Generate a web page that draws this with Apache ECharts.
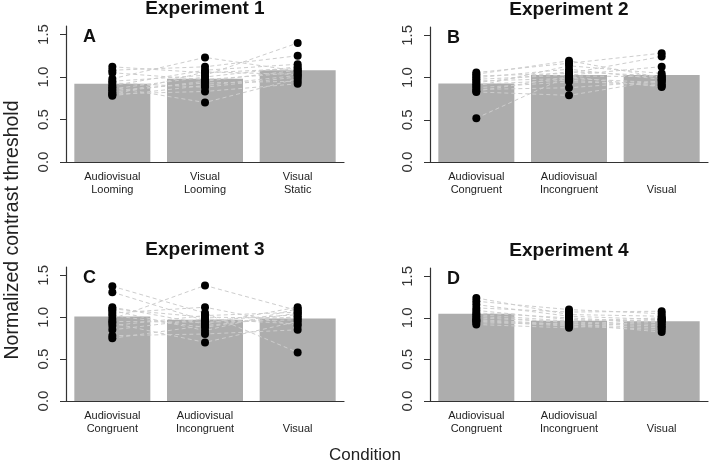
<!DOCTYPE html>
<html>
<head>
<meta charset="utf-8">
<script src="https://cdn.jsdelivr.net/npm/echarts@6/dist/echarts.min.js"></script>
<style>html,body{margin:0;padding:0;background:#fff}#c{width:711px;height:465px}</style>
</head>
<body>
<div id="c"></div>
<script>
// ---- Data ----
const categoriesExp1 = ['Audiovisual\nLooming', 'Visual\nLooming', 'Visual\nStatic'];
const categoriesExp2 = ['Audiovisual\nCongruent', 'Audiovisual\nIncongruent', '\nVisual'];
const categoriesExp3 = ['Audiovisual\nCongruent', 'Audiovisual\nIncongruent', '\nVisual'];
const categoriesExp4 = ['Audiovisual\nCongruent', 'Audiovisual\nIncongruent', '\nVisual'];

const yTicks = [0, 0.5, 1.0, 1.5];

const exp1Means = [0.92, 0.98, 1.08];
const exp1Cond1 = [1.12, 1.08, 1.05, 0.98, 0.95, 0.93, 0.90, 0.88, 0.86, 0.84, 0.82, 0.80, 0.78, 0.79];
const exp1Cond2 = [1.05, 1.12, 0.97, 1.23, 1.02, 0.88, 1.08, 0.70, 1.00, 0.93, 0.95, 0.83, 0.90, 1.06];
const exp1Cond3 = [1.10, 1.25, 1.05, 1.07, 1.40, 1.00, 1.15, 0.98, 1.12, 0.95, 1.08, 0.92, 1.02, 1.03];

const exp2Means = [0.93, 1.03, 1.03];
const exp2Cond1 = [1.06, 1.04, 1.02, 1.00, 0.98, 0.96, 0.94, 0.92, 0.90, 0.88, 0.86, 0.84, 0.83, 0.52];
const exp2Cond2 = [1.17, 1.20, 1.05, 1.10, 1.03, 0.99, 1.07, 0.97, 1.14, 0.95, 0.88, 1.01, 0.79, 1.02];
const exp2Cond3 = [1.29, 1.00, 1.25, 0.98, 1.13, 0.94, 1.02, 0.90, 1.05, 0.92, 0.96, 0.89, 0.97, 1.01];

const exp3Means = [1.01, 0.97, 0.985];
const exp3Cond1 = [1.37, 1.30, 1.12, 1.10, 1.08, 1.05, 1.02, 0.98, 0.95, 0.93, 0.85, 0.78, 0.75, 0.90];
const exp3Cond2 = [1.05, 0.96, 0.92, 1.00, 0.84, 1.12, 0.88, 1.38, 0.94, 0.70, 0.98, 0.80, 0.90, 1.02];
const exp3Cond3 = [0.58, 1.03, 1.12, 0.99, 1.10, 0.90, 1.05, 1.08, 0.97, 0.95, 0.92, 0.85, 1.01, 1.06];

const exp4Means = [1.05, 0.965, 0.96];
const exp4Cond1 = [1.24, 1.20, 1.16, 1.12, 1.09, 1.06, 1.04, 1.02, 1.00, 0.98, 0.96, 0.94, 0.92, 0.97];
const exp4Cond2 = [1.04, 1.10, 1.02, 1.07, 0.98, 1.00, 0.96, 0.94, 0.95, 0.92, 0.90, 0.93, 0.88, 0.91];
const exp4Cond3 = [1.02, 1.05, 0.98, 1.08, 0.96, 0.94, 1.00, 0.90, 0.92, 0.88, 0.86, 0.83, 0.97, 0.99];

const panelTitles = ['Experiment 1', 'Experiment 2', 'Experiment 3', 'Experiment 4'];
const panelLetters = ['A', 'B', 'C', 'D'];
const yAxisTitle = 'Normalized contrast threshold';
const xAxisTitle = 'Condition';

// ---- Layout ----
const panels = [
  { cats: categoriesExp1, means: exp1Means, conds: [exp1Cond1, exp1Cond2, exp1Cond3], grid: { left: 66, top: 26, width: 278, height: 136 } },
  { cats: categoriesExp2, means: exp2Means, conds: [exp2Cond1, exp2Cond2, exp2Cond3], grid: { left: 430, top: 27, width: 278, height: 135 } },
  { cats: categoriesExp3, means: exp3Means, conds: [exp3Cond1, exp3Cond2, exp3Cond3], grid: { left: 66, top: 267, width: 278, height: 134 } },
  { cats: categoriesExp4, means: exp4Means, conds: [exp4Cond1, exp4Cond2, exp4Cond3], grid: { left: 430, top: 268, width: 278, height: 133 } }
];

const FONT = 'Liberation Sans, Arial, sans-serif';
const grids = [], xAxes = [], yAxes = [], series = [], graphics = [];

panels.forEach((p, i) => {
  grids.push(Object.assign({ containLabel: false }, p.grid));
  xAxes.push({
    type: 'category', gridIndex: i, data: p.cats, boundaryGap: true,
    axisLine: { show: true, lineStyle: { color: '#333', width: 1.2 } },
    axisTick: { show: false },
    axisLabel: { color: '#222', fontSize: 11, fontFamily: FONT, margin: 8, lineHeight: 13, interval: 0 },
    splitLine: { show: false }
  });
  yAxes.push({
    type: 'value', gridIndex: i, min: 0, max: 1.6,
    axisLine: { show: true, lineStyle: { color: '#333', width: 1.2 } },
    axisTick: { show: true, length: 6, lineStyle: { color: '#333' }, customValues: yTicks },
    axisLabel: { rotate: 90, color: '#333', fontSize: 15, fontFamily: FONT, margin: 15,
      customValues: yTicks, formatter: v => Number(v).toFixed(1) },
    splitLine: { show: false }
  });
  series.push({
    type: 'bar', xAxisIndex: i, yAxisIndex: i, data: p.means, barWidth: 76,
    itemStyle: { color: '#adadad' }, z: 1, silent: true
  });
  const n = p.conds[0].length;
  for (let s = 0; s < n; s++) {
    series.push({
      type: 'line', xAxisIndex: i, yAxisIndex: i,
      data: [p.conds[0][s], p.conds[1][s], p.conds[2][s]],
      symbol: 'none', lineStyle: { color: '#cdcdcd', width: 1, type: [4, 3] },
      z: 2, silent: true, animation: false
    });
  }
  const pts = [];
  p.conds.forEach((arr, ci) => arr.forEach(v => pts.push([ci, v])));
  series.push({
    type: 'scatter', xAxisIndex: i, yAxisIndex: i, data: pts, symbolSize: 8,
    itemStyle: { color: '#000', opacity: 1 }, z: 3, silent: true
  });
  const cx = p.grid.left + p.grid.width / 2;
  graphics.push({
    type: 'text', x: cx, y: p.grid.top - 17,
    style: { text: panelTitles[i], font: 'bold 19px ' + FONT, fill: '#111', align: 'center', verticalAlign: 'middle' }
  });
  graphics.push({
    type: 'text', x: p.grid.left + 17, y: p.grid.top + 11,
    style: { text: panelLetters[i], font: 'bold 18px ' + FONT, fill: '#111', align: 'left', verticalAlign: 'middle' }
  });
});

graphics.push({
  type: 'text', x: 13, y: 230, rotation: Math.PI / 2,
  style: { text: yAxisTitle, font: '19.5px ' + FONT, fill: '#222', align: 'center', verticalAlign: 'middle' }
});
graphics.push({
  type: 'text', x: 365, y: 455,
  style: { text: xAxisTitle, font: '17px ' + FONT, fill: '#222', align: 'center', verticalAlign: 'middle' }
});

const chart = echarts.init(document.getElementById('c'), null, { renderer: 'canvas' });
chart.setOption({
  animation: false,
  backgroundColor: '#fff',
  grid: grids, xAxis: xAxes, yAxis: yAxes, series: series, graphic: graphics
});
</script>
</body>
</html>
